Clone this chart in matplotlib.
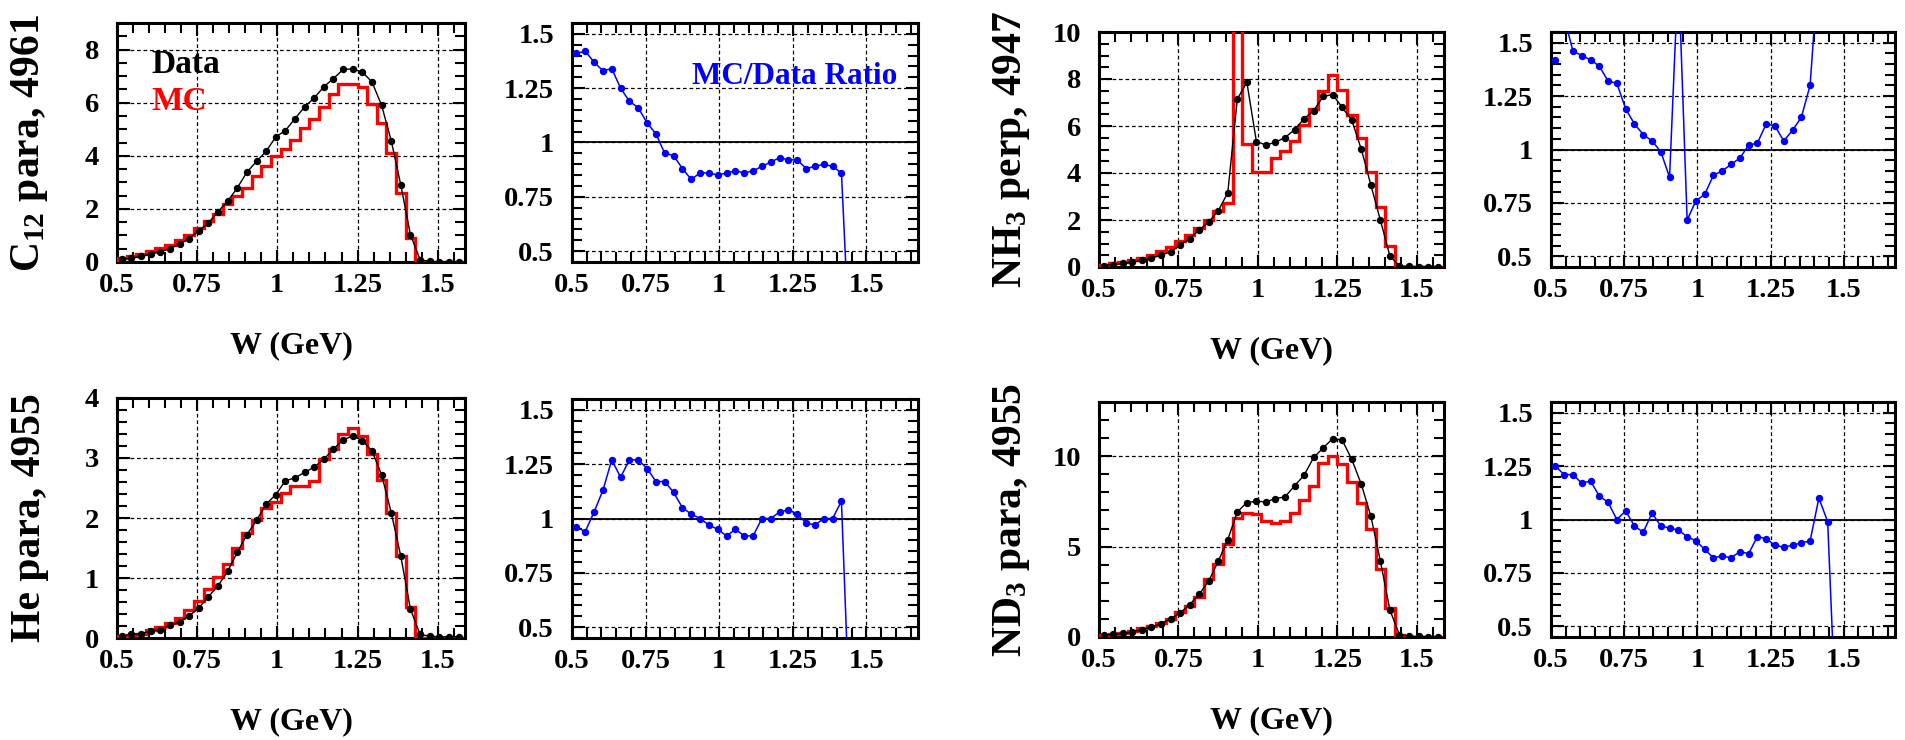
import numpy as np
import matplotlib
matplotlib.use('Agg')
import matplotlib.pyplot as plt
from matplotlib.ticker import MultipleLocator, FuncFormatter

plt.rcParams['font.family'] = ['Liberation Serif', 'DejaVu Serif']
plt.rcParams['font.weight'] = 'bold'
plt.rcParams['mathtext.fontset'] = 'custom'
plt.rcParams['mathtext.rm'] = 'Liberation Serif:bold'
plt.rcParams['mathtext.bf'] = 'Liberation Serif:bold'
plt.rcParams['mathtext.it'] = 'Liberation Serif:bold:italic'

# ---------------- data ----------------
W_LOW = 0.5
BIN_WIDTH = 0.03
N_BINS = 36

c12_data = [0.11, 0.15, 0.21, 0.30, 0.38, 0.50, 0.68, 0.88, 1.18, 1.47, 1.90, 2.29,
            2.79, 3.38, 3.79, 4.17, 4.71, 4.95, 5.40, 5.84, 6.18, 6.60, 6.91, 7.25,
            7.27, 7.15, 6.78, 5.90, 4.57, 2.89, 1.02, 0.09, 0.02, 0.01, 0.01, 0.01]
c12_mc = [0.16, 0.21, 0.29, 0.40, 0.51, 0.63, 0.81, 1.02, 1.28, 1.53, 1.79, 2.20,
          2.47, 2.80, 3.24, 3.62, 3.99, 4.24, 4.60, 5.03, 5.39, 5.85, 6.32, 6.72,
          6.72, 6.60, 5.96, 5.24, 4.12, 2.58, 0.89, 0, 0, 0, 0, 0]
c12_ratio = [1.41, 1.42, 1.37, 1.33, 1.34, 1.25, 1.19, 1.16, 1.09, 1.04, 0.95, 0.94,
             0.88, 0.83, 0.86, 0.86, 0.85, 0.86, 0.87, 0.86, 0.87, 0.89, 0.91, 0.93,
             0.92, 0.92, 0.88, 0.89, 0.90, 0.89, 0.86, 0.0]

nh3_data = [0.06, 0.10, 0.16, 0.21, 0.28, 0.37, 0.51, 0.64, 0.93, 1.21, 1.57, 1.92,
            2.39, 3.16, 7.15, 7.86, 5.34, 5.19, 5.31, 5.51, 5.84, 6.31, 6.65, 7.26,
            7.34, 6.79, 6.24, 5.01, 3.49, 1.99, 0.46, 0.04, 0.03, 0.02, 0.02, 0.02]
nh3_mc = [0.085, 0.16, 0.23, 0.30, 0.40, 0.51, 0.67, 0.84, 1.11, 1.36, 1.68, 2.00,
          2.37, 2.72, 13.2, 5.22, 4.04, 4.06, 4.63, 4.93, 5.38, 6.03, 6.74, 7.49,
          8.18, 7.52, 6.47, 5.50, 4.04, 2.57, 0.88, 0, 0, 0, 0, 0]
nh3_ratio = [1.42, 1.62, 1.46, 1.44, 1.42, 1.39, 1.32, 1.31, 1.19, 1.12, 1.07, 1.04,
             0.99, 0.87, 1.84, 0.67, 0.76, 0.79, 0.88, 0.90, 0.93, 0.96, 1.02, 1.03,
             1.12, 1.11, 1.04, 1.09, 1.15, 1.30, 1.88]

he_data = [0.03, 0.06, 0.07, 0.12, 0.14, 0.21, 0.27, 0.37, 0.50, 0.69, 0.87, 1.11,
           1.43, 1.72, 1.96, 2.23, 2.39, 2.62, 2.67, 2.76, 2.85, 2.98, 3.15, 3.30,
           3.37, 3.29, 3.12, 2.72, 2.09, 1.36, 0.48, 0.06, 0.03, 0.02, 0.02, 0.02]
he_mc = [0.03, 0.056, 0.07, 0.14, 0.18, 0.25, 0.34, 0.47, 0.62, 0.81, 1.02, 1.24,
         1.50, 1.75, 1.96, 2.16, 2.27, 2.41, 2.54, 2.54, 2.62, 2.98, 3.15, 3.40,
         3.50, 3.36, 3.06, 2.64, 2.09, 1.36, 0.52, 0, 0, 0, 0, 0]
he_ratio = [0.96, 0.94, 1.03, 1.13, 1.27, 1.19, 1.27, 1.27, 1.23, 1.17, 1.17, 1.12,
            1.05, 1.02, 1.00, 0.97, 0.95, 0.92, 0.95, 0.92, 0.92, 1.00, 1.00, 1.03,
            1.04, 1.02, 0.98, 0.97, 1.00, 1.00, 1.08, 0.0]

nd3_data = [0.09, 0.15, 0.20, 0.28, 0.41, 0.55, 0.74, 1.01, 1.33, 1.79, 2.36, 3.10,
            4.19, 5.39, 6.92, 7.44, 7.51, 7.47, 7.66, 7.75, 8.36, 8.95, 9.93, 10.46,
            10.98, 10.89, 9.82, 8.45, 6.68, 4.19, 1.48, 0.13, 0.05, 0.03, 0.02, 0.02]
nd3_mc = [0.11, 0.18, 0.24, 0.33, 0.48, 0.62, 0.80, 1.01, 1.38, 1.74, 2.22, 3.19,
          4.06, 5.17, 6.57, 6.84, 6.78, 6.42, 6.28, 6.43, 6.86, 7.60, 8.34, 9.62,
          9.99, 9.58, 8.56, 7.43, 5.95, 3.76, 1.60, 0.13, 0, 0, 0, 0]
nd3_ratio = [1.25, 1.21, 1.21, 1.17, 1.18, 1.11, 1.08, 1.00, 1.04, 0.97, 0.94, 1.03,
             0.97, 0.96, 0.95, 0.92, 0.90, 0.86, 0.82, 0.83, 0.82, 0.85, 0.84, 0.92,
             0.91, 0.88, 0.87, 0.88, 0.89, 0.90, 1.10, 0.99, 0.0]

edges = W_LOW + BIN_WIDTH * np.arange(N_BINS + 1)
centers = edges[:-1] + BIN_WIDTH / 2

# ---------------- layout ----------------
FW, FH = 1906, 740
fig = plt.figure(figsize=(FW / 100, FH / 100), dpi=100)


def add_ax(l, t, r, b):
    return fig.add_axes([l / FW, 1 - b / FH, (r - l) / FW, (b - t) / FH])


fmt = FuncFormatter(lambda v, p: f'{v:g}')
TICK_FS = 20.5


def style(ax, xmax, ylim, ymaj, ymin):
    ax.set_xlim(0.5, xmax)
    ax.set_ylim(*ylim)
    ax.xaxis.set_major_locator(MultipleLocator(0.25))
    ax.xaxis.set_minor_locator(MultipleLocator(0.05))
    ax.yaxis.set_major_locator(MultipleLocator(ymaj))
    ax.yaxis.set_minor_locator(MultipleLocator(ymin))
    ax.xaxis.set_major_formatter(fmt)
    ax.yaxis.set_major_formatter(fmt)
    ax.tick_params(which='both', direction='in', top=True, right=True,
                   width=1.5, labelsize=TICK_FS, colors='black')
    ax.tick_params(which='major', length=9)
    ax.tick_params(which='minor', length=7)
    ax.tick_params(axis='x', pad=8)
    ax.tick_params(axis='y', pad=13)
    ax.grid(True, which='major', color='black', ls=(0, (3, 2.2)), lw=0.9)
    for s in ax.spines.values():
        s.set_linewidth(2.2)
    for lab in ax.get_xticklabels() + ax.get_yticklabels():
        lab.set_fontweight('bold')


def dist_panel(box, data, mc, ylim, ymaj, ymin, ylabel):
    ax = add_ax(*box)
    ax.stairs(mc, edges, baseline=0, color='red', lw=2.4, zorder=3)
    ax.plot(centers, data, color='black', lw=1.0, zorder=4)
    ax.plot(centers, data, 'o', color='black', ms=4.3, zorder=5)
    style(ax, 1.585, ylim, ymaj, ymin)
    l, t, r, b = box
    fig.text((l - 87) / FW, 1 - ((t + b) / 2) / FH, ylabel, rotation=90,
             ha='center', va='center', fontsize=30, fontweight='bold')
    fig.text(((l + r) / 2) / FW, 1 - (b + 84) / FH, 'W (GeV)',
             ha='center', va='center', fontsize=23, fontweight='bold')
    return ax


def ratio_panel(box, ratio, line_start=0):
    ax = add_ax(*box)
    n = len(ratio)
    ax.axhline(1.0, color='black', lw=1.3, zorder=2.2)
    ax.plot(centers[line_start:n], ratio[line_start:], color='blue', lw=1.1, zorder=4)
    ax.plot(centers[:n], ratio, 'o', color='blue', ms=4.3, zorder=5)
    style(ax, 1.675, (0.45, 1.55), 0.25, 0.05)
    return ax


ax1 = dist_panel((117, 23, 465, 262), c12_data, c12_mc, (0, 9), 2, 0.5,
                 r'C$_{12}$ para, 4961')
ax1.text(0.10, 0.825, 'Data', transform=ax1.transAxes, color='black',
         fontsize=24, fontweight='bold', ha='left', va='center')
ax1.text(0.10, 0.67, 'MC', transform=ax1.transAxes, color='red',
         fontsize=24, fontweight='bold', ha='left', va='center')

ax2 = ratio_panel((572, 23, 918, 262), c12_ratio)
ax2.text(0.644, 0.778, 'MC/Data Ratio', transform=ax2.transAxes, color='blue',
         fontsize=22.5, fontweight='bold', ha='center', va='center')

dist_panel((1099, 32, 1444, 267), nh3_data, nh3_mc, (0, 10), 2, 0.5,
           r'NH$_{3}$ perp, 4947')
ratio_panel((1551, 32, 1895, 267), nh3_ratio, line_start=1)

dist_panel((117, 398, 465, 638), he_data, he_mc, (0, 4), 1, 0.2,
           'He para, 4955')
ratio_panel((572, 399, 918, 638), he_ratio)

dist_panel((1099, 402, 1444, 637), nd3_data, nd3_mc, (0, 13), 5, 1,
           r'ND$_{3}$ para, 4955')
ratio_panel((1551, 402, 1895, 637), nd3_ratio)

fig.savefig('out.png', dpi=100)
